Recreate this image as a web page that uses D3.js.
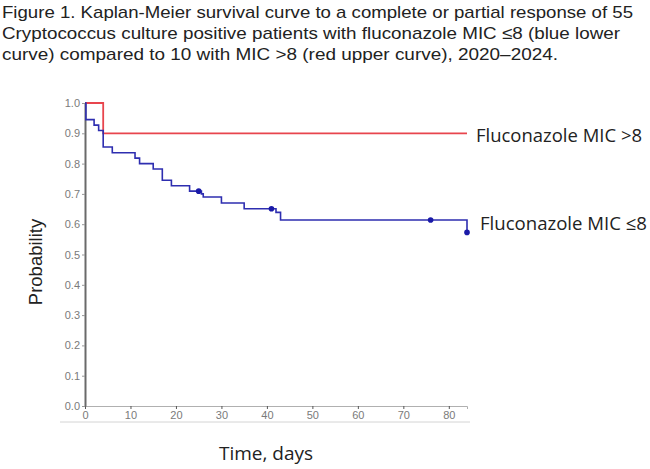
<!DOCTYPE html>
<html>
<head>
<meta charset="utf-8">
<script src="https://cdn.jsdelivr.net/npm/d3@7"></script>
<style>
  body { margin: 0; background: #fff; }
  svg { display: block; }
</style>
</head>
<body>
<div id="chart"></div>
<script>
// title lines
const titleLines = [
  'Figure 1. Kaplan-Meier survival curve to a complete or partial response of 55',
  'Cryptococcus culture positive patients with fluconazole MIC \u22648 (blue lower',
  'curve) compared to 10 with MIC >8 (red upper curve), 2020\u20132024.'
];
const titleWidths = [631, 618, 556];

// MIC <=8 (blue) step curve: time (days) and probability after each step
const blueTimes = [0, 0.2, 2, 3, 4, 6, 11, 12, 15, 17, 19, 23, 25.6, 26, 30, 35, 42, 43, 84];
const blueSurv = [1.0, 0.945, 0.927, 0.909, 0.855, 0.836, 0.818, 0.8, 0.782, 0.745, 0.727, 0.709, 0.7, 0.69, 0.67, 0.651, 0.639, 0.614, 0.573];
const blueCensorTimes = [25, 41, 76, 84];
const blueCensorSurv = [0.709, 0.651, 0.614, 0.573];

// MIC >8 (red) step curve
const redTimes = [0, 4, 84];
const redSurv = [1.0, 0.9, 0.9];

const xTicks = [0, 10, 20, 30, 40, 50, 60, 70, 80];
const yTicks = [0, 0.1, 0.2, 0.3, 0.4, 0.5, 0.6, 0.7, 0.8, 0.9, 1.0];

const width = 650;
const height = 469;

const svg = d3.select('#chart').append('svg').attr('width', width).attr('height', height);

const x = d3.scaleLinear().domain([0, 84]).range([85, 467]);
const y = d3.scaleLinear().domain([0, 1]).range([406, 103]);

// title
svg.append('g')
  .selectAll('text')
  .data(titleLines)
  .enter()
  .append('text')
  .attr('x', 2)
  .attr('y', (d, i) => 17.5 + i * 21)
  .attr('font-family', 'Liberation Sans, Arial, sans-serif')
  .attr('font-size', 17)
  .attr('fill', '#222')
  .attr('textLength', (d, i) => titleWidths[i])
  .attr('lengthAdjust', 'spacingAndGlyphs')
  .text((d) => d);

// faint line under the tick labels
svg.append('line')
  .attr('x1', 60).attr('x2', 470)
  .attr('y1', 422).attr('y2', 422)
  .attr('stroke', '#d4d4d4')
  .attr('stroke-width', 1);

// x axis
const xAxis = svg.append('g')
  .attr('transform', `translate(0,${y(0)})`)
  .call(d3.axisBottom(x).tickValues(xTicks).tickSize(3).tickSizeOuter(3).tickPadding(2));
xAxis.select('.domain').attr('stroke', '#b0b0b0');
xAxis.selectAll('.tick line').attr('stroke', '#555');
xAxis.selectAll('.tick text')
  .attr('fill', '#7a7a7a')
  .attr('font-family', 'Liberation Sans, Arial, sans-serif')
  .attr('font-size', 11);

// y axis
const yAxis = svg.append('g')
  .attr('transform', `translate(${x(0)},0)`)
  .call(d3.axisLeft(y).tickValues(yTicks).tickFormat(d3.format('.1f')).tickSize(3).tickSizeOuter(0).tickPadding(2));
yAxis.select('.domain').attr('stroke', '#6a6a6a').attr('stroke-width', 2);
yAxis.selectAll('.tick line').attr('stroke', '#999');
yAxis.selectAll('.tick text')
  .attr('fill', '#7a7a7a')
  .attr('font-family', 'Liberation Sans, Arial, sans-serif')
  .attr('font-size', 11);

// curves
const stepLine = d3.line()
  .x((d) => x(d[0]))
  .y((d) => y(d[1]))
  .curve(d3.curveStepAfter);

svg.append('path')
  .datum(redTimes.map((t, i) => [t, redSurv[i]]))
  .attr('d', stepLine)
  .attr('fill', 'none')
  .attr('stroke', '#e8454d')
  .attr('stroke-width', 1.8);

svg.append('path')
  .datum(blueTimes.map((t, i) => [t, blueSurv[i]]))
  .attr('d', stepLine)
  .attr('fill', 'none')
  .attr('stroke', '#2e2eb0')
  .attr('stroke-width', 1.6);

svg.append('g')
  .selectAll('circle')
  .data(blueCensorTimes.map((t, i) => [t, blueCensorSurv[i]]))
  .enter()
  .append('circle')
  .attr('cx', (d) => x(d[0]))
  .attr('cy', (d) => y(d[1]))
  .attr('r', 2.8)
  .attr('fill', '#1a1aa8');

// curve labels
svg.append('text')
  .attr('x', 476)
  .attr('y', 141.5)
  .attr('font-family', 'Open Sans, sans-serif')
  .attr('font-size', 18.5)
  .attr('fill', '#222')
  .attr('textLength', 166)
  .attr('lengthAdjust', 'spacingAndGlyphs')
  .text('Fluconazole MIC >8');

svg.append('text')
  .attr('x', 480)
  .attr('y', 229.5)
  .attr('font-family', 'Open Sans, sans-serif')
  .attr('font-size', 18.5)
  .attr('fill', '#222')
  .attr('textLength', 167)
  .attr('lengthAdjust', 'spacingAndGlyphs')
  .text('Fluconazole MIC \u22648');

// axis titles
svg.append('text')
  .attr('transform', `translate(42,262) rotate(-90)`)
  .attr('text-anchor', 'middle')
  .attr('font-family', 'Liberation Sans, Arial, sans-serif')
  .attr('font-size', 18.5)
  .attr('fill', '#222')
  .text('Probability');

svg.append('text')
  .attr('x', 266)
  .attr('y', 460)
  .attr('text-anchor', 'middle')
  .attr('font-family', 'Open Sans, sans-serif')
  .attr('font-size', 19)
  .attr('fill', '#222')
  .text('Time, days');
</script>
</body>
</html>
